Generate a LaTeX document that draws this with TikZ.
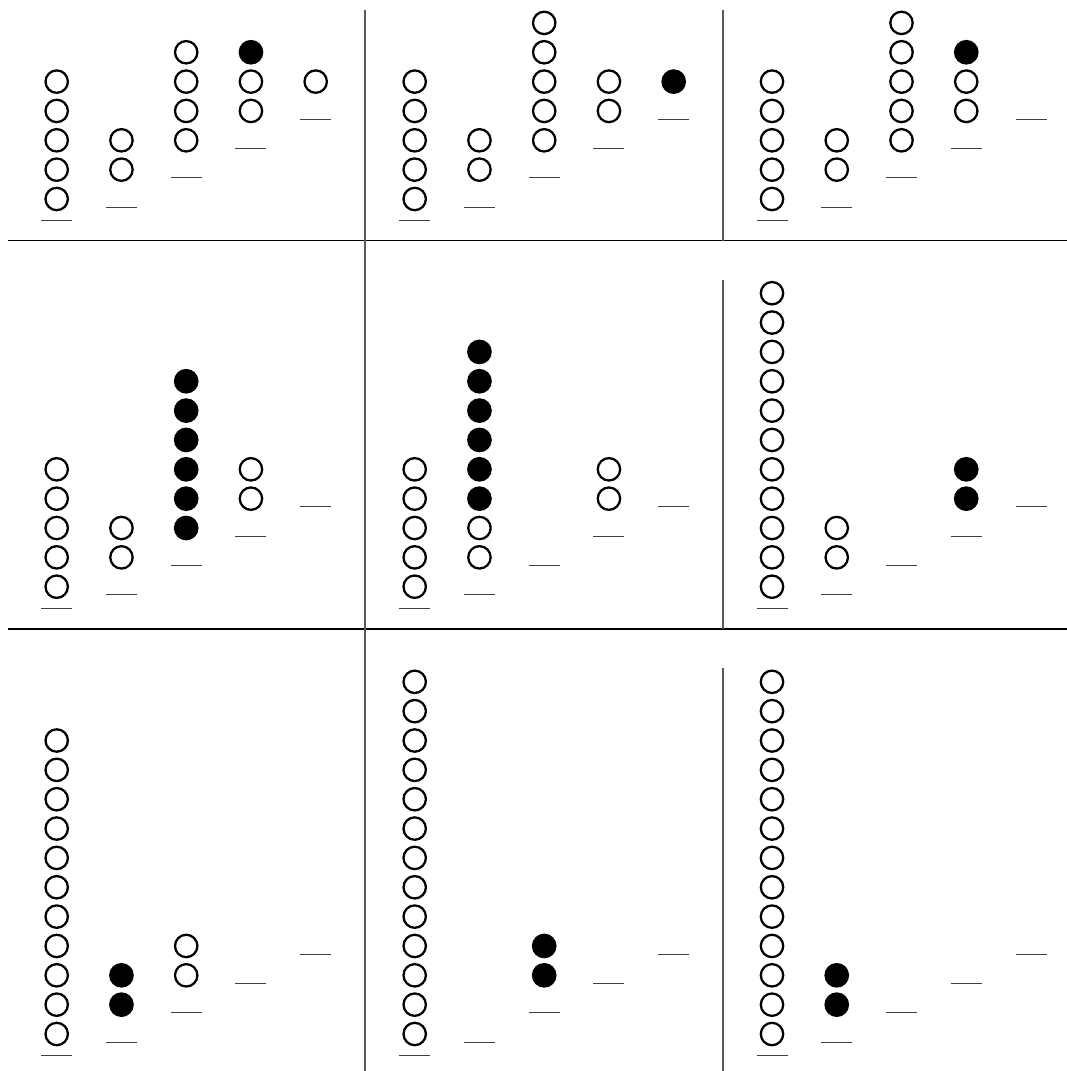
\documentclass[tikz,border=0pt]{standalone}
\tikzset{
  stone/.style={circle, draw=black, line width=1.7pt, inner sep=0pt, minimum size=16.8pt},
  full/.style={stone, fill=black},
  baseln/.style={draw=black!75, line width=0.8pt},
  hsep/.style={draw=black, line width=1pt},
  vsep/.style={draw=black!65, line width=1.3pt}
}
\def\u{29.35}
% #1 panel x0, #2 Y0, #3 column, #4 open count, #5 filled count, #6 name prefix
\newcommand\mypile[6]{%
  \pgfmathsetmacro\cx{#1+(#3-1)*64.75}%
  \pgfmathsetmacro\by{#2-(#3-1)*\u}%
  \ifnum#3=1 \pgfmathsetmacro\ly{floor(#2+21.8)+0.5}\else\pgfmathsetmacro\ly{floor(\by+37.6)+0.5}\fi
  \draw[baseln] (\cx-15.5,\ly) -- (\cx+15.5,\ly);
  \pgfmathtruncatemacro\tot{#4+#5}%
  \ifnum\tot>0
    \foreach \i in {1,...,\tot}{%
      \pgfmathsetmacro\yy{\by-(\i-1)*\u}%
      \ifnum\i>#4 \node[full] (#6-\i) at (\cx,\yy) {};\else\node[stone] (#6-\i) at (\cx,\yy) {};\fi
    }%
  \fi
}
\begin{document}
\begin{tikzpicture}[x=0.75pt,y=-0.75pt]
\useasboundingbox (0,0) rectangle (1067,1071);
% separators
\draw[hsep] (8,240.5) -- (1067,240.5);
\draw[hsep] (7.5,629) -- (1067,629);
\draw[vsep] (365,10) -- (365,1071);
\draw[vsep] (722.8,10) -- (722.8,241);
\draw[vsep] (722.8,280) -- (722.8,629);
\draw[vsep] (722.8,668) -- (722.8,1071);
% row 1
\mypile{56.7}{199}{1}{5}{0}{a1}
\mypile{56.7}{199}{2}{2}{0}{a2}
\mypile{56.7}{199}{3}{4}{0}{a3}
\mypile{56.7}{199}{4}{2}{1}{a4}
\mypile{56.7}{199}{5}{1}{0}{a5}
\mypile{414.7}{199}{1}{5}{0}{b1}
\mypile{414.7}{199}{2}{2}{0}{b2}
\mypile{414.7}{199}{3}{5}{0}{b3}
\mypile{414.7}{199}{4}{2}{0}{b4}
\mypile{414.7}{199}{5}{0}{1}{b5}
\mypile{772}{199}{1}{5}{0}{c1}
\mypile{772}{199}{2}{2}{0}{c2}
\mypile{772}{199}{3}{5}{0}{c3}
\mypile{772}{199}{4}{2}{1}{c4}
\mypile{772}{199}{5}{0}{0}{c5}
% row 2
\mypile{56.7}{586.7}{1}{5}{0}{d1}
\mypile{56.7}{586.7}{2}{2}{0}{d2}
\mypile{56.7}{586.7}{3}{0}{6}{d3}
\mypile{56.7}{586.7}{4}{2}{0}{d4}
\mypile{56.7}{586.7}{5}{0}{0}{d5}
\mypile{414.7}{586.7}{1}{5}{0}{e1}
\mypile{414.7}{586.7}{2}{2}{6}{e2}
\mypile{414.7}{586.7}{3}{0}{0}{e3}
\mypile{414.7}{586.7}{4}{2}{0}{e4}
\mypile{414.7}{586.7}{5}{0}{0}{e5}
\mypile{772}{586.7}{1}{11}{0}{f1}
\mypile{772}{586.7}{2}{2}{0}{f2}
\mypile{772}{586.7}{3}{0}{0}{f3}
\mypile{772}{586.7}{4}{0}{2}{f4}
\mypile{772}{586.7}{5}{0}{0}{f5}
% row 3
\mypile{56.7}{1034}{1}{11}{0}{g1}
\mypile{56.7}{1034}{2}{0}{2}{g2}
\mypile{56.7}{1034}{3}{2}{0}{g3}
\mypile{56.7}{1034}{4}{0}{0}{g4}
\mypile{56.7}{1034}{5}{0}{0}{g5}
\mypile{414.7}{1034}{1}{13}{0}{h1}
\mypile{414.7}{1034}{2}{0}{0}{h2}
\mypile{414.7}{1034}{3}{0}{2}{h3}
\mypile{414.7}{1034}{4}{0}{0}{h4}
\mypile{414.7}{1034}{5}{0}{0}{h5}
\mypile{772}{1034}{1}{13}{0}{i1}
\mypile{772}{1034}{2}{0}{2}{i2}
\mypile{772}{1034}{3}{0}{0}{i3}
\mypile{772}{1034}{4}{0}{0}{i4}
\mypile{772}{1034}{5}{0}{0}{i5}
\end{tikzpicture}
\end{document}
